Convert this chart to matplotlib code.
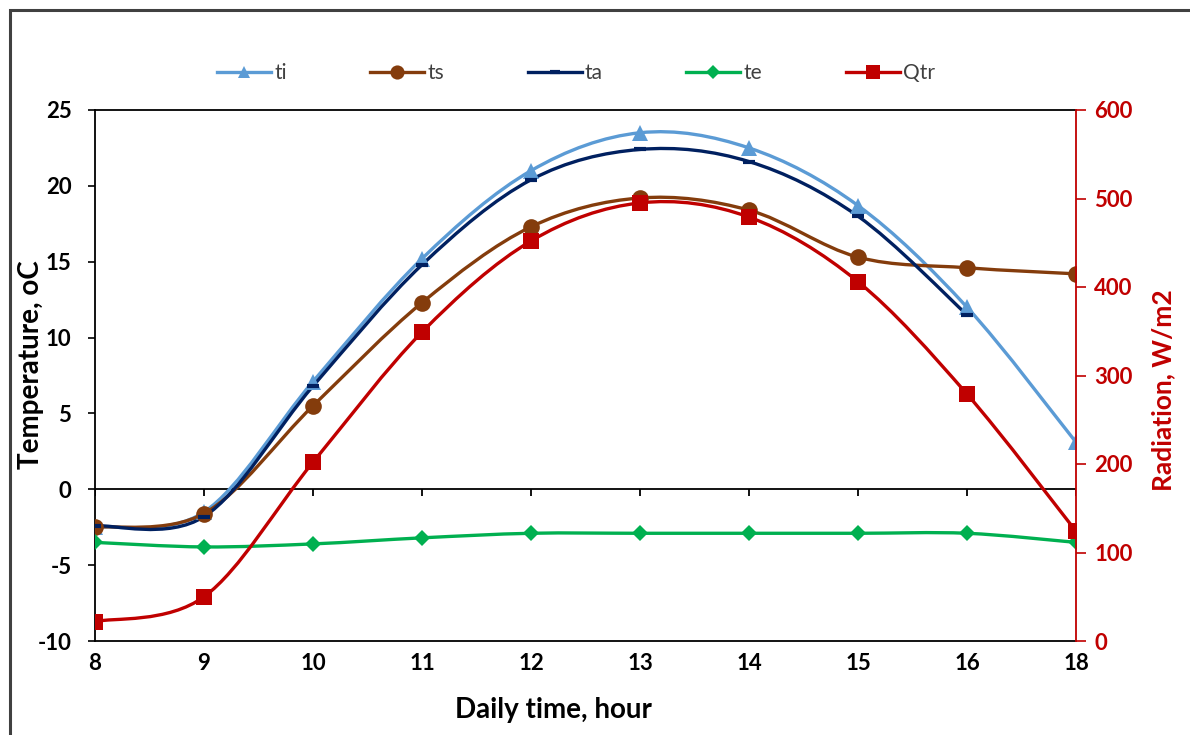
import numpy as np
import matplotlib
matplotlib.use("Agg")
import matplotlib.pyplot as plt
from matplotlib.path import Path
from matplotlib.patches import PathPatch, Rectangle
from matplotlib.lines import Line2D

plt.rcParams["font.family"] = ["Lato", "DejaVu Sans"]
plt.rcParams["axes.unicode_minus"] = False

# data
hours = ["8", "9", "10", "11", "12", "13", "14", "15", "16", "18"]
ti = [-2.5, -1.5, 7.1, 15.2, 21.0, 23.5, 22.5, 18.7, 12.0, 3.1]
ts = [-2.5, -1.6, 5.5, 12.3, 17.3, 19.2, 18.4, 15.3, 14.6, 14.2]
ta = [-2.4, -1.8, 6.8, 14.8, 20.4, 22.4, 21.6, 18.0, 11.5, np.nan]
te = [-3.5, -3.8, -3.6, -3.2, -2.9, -2.9, -2.9, -2.9, -2.9, -3.5]
qtr = [22, 50, 202, 349, 452, 495, 479, 406, 279, 124]

C_TI = "#5B9BD5"
C_TS = "#843C0C"
C_TA = "#002060"
C_TE = "#00B050"
C_Q = "#C00000"


def smooth_path(xs, ys):
    """Excel-style smoothed line as cubic Bezier segments."""
    pts = [(x, y) for x, y in zip(xs, ys) if not np.isnan(y)]
    pts = np.array(pts, dtype=float)
    n = len(pts)
    verts = [pts[0]]
    codes = [Path.MOVETO]
    for i in range(n - 1):
        p_prev = pts[i - 1] if i > 0 else pts[i]
        p0, p1 = pts[i], pts[i + 1]
        p_next = pts[i + 2] if i + 2 < n else pts[i + 1]
        c1 = p0 + (p1 - p_prev) / 6.0
        c2 = p1 - (p_next - p0) / 6.0
        verts += [c1, c2, p1]
        codes += [Path.CURVE4] * 3
    return Path(verts, codes)


fig = plt.figure(figsize=(11.9, 7.35), dpi=100)
ax = fig.add_axes([95 / 1190, 1 - 641 / 735, (1076 - 95) / 1190, (641 - 110) / 735])
ax2 = ax.twinx()

x = np.arange(len(hours))

series = [
    (ax, ti, C_TI, "^", 11, "ti"),
    (ax, ts, C_TS, "o", 12, "ts"),
    (ax, ta, C_TA, "_", 8, "ta"),
    (ax, te, C_TE, "D", 8, "te"),
    (ax2, qtr, C_Q, "s", 12, "Qtr"),
]
handles = []
for a, vals, col, mk, ms, name in series:
    vals = np.array(vals, dtype=float)
    a.add_patch(PathPatch(smooth_path(x, vals), facecolor="none", edgecolor=col,
                          lw=2.4, zorder=3))
    mew = 3 if mk == "_" else 0
    a.plot(x, vals, linestyle="none", marker=mk, ms=ms, color=col, mew=mew,
           zorder=4)
    handles.append(Line2D([], [], color=col, lw=2.4, marker=mk, ms=ms * 0.85,
                          mew=mew, label=name))

ax.set_xlim(0, len(hours) - 1)
ax.set_ylim(-10, 25)
ax.set_yticks(range(-10, 26, 5))
ax2.set_ylim(0, 600)
ax2.set_yticks(range(0, 601, 100))

ax.set_xticks(x)
ax.set_xticklabels(hours)
ax.tick_params(axis="x", length=0, pad=9)
ax.tick_params(axis="y", length=5, width=1.2, pad=12)
ax2.tick_params(axis="y", length=7, width=1.2, colors=C_Q, pad=6)

for lab in ax.get_xticklabels() + ax.get_yticklabels():
    lab.set_fontsize(16)
    lab.set_fontweight("bold")
    lab.set_color("black")
for lab in ax2.get_yticklabels():
    lab.set_fontsize(16)
    lab.set_fontweight("bold")
    lab.set_color(C_Q)

for sp in ax.spines.values():
    sp.set_linewidth(1.3)
    sp.set_color("black")
for name, sp in ax2.spines.items():
    sp.set_visible(name == "right")
ax2.spines["right"].set_color(C_Q)
ax2.spines["right"].set_linewidth(1.3)
ax.spines["right"].set_visible(False)

# horizontal axis line through zero, with its tick marks
ax.axhline(0, color="black", lw=1.3, zorder=2)
ax.vlines(x, -0.45, 0, color="black", lw=1.3, zorder=2)

ax.set_xlabel("Daily time, hour", fontsize=20, fontweight="bold")
ax.xaxis.set_label_coords(0.467, -0.105)
ax.set_ylabel("Temperature, oC", fontsize=20, fontweight="bold")
ax.yaxis.set_label_coords(-0.052, 0.52)
ax2.set_ylabel("Radiation, W/m2", fontsize=19, fontweight="bold", color=C_Q)
ax2.yaxis.set_label_coords(1.077, 0.473)

fig.legend(handles=handles, loc="center", bbox_to_anchor=(576 / 1190, 1 - 73 / 735),
           ncol=5, frameon=False, fontsize=15, handlelength=2.6, handletextpad=0.15,
           columnspacing=4.0, labelcolor="#404040")

# outer chart frame
fig.patches.append(Rectangle((10 / 1190, -0.05), 1.2, 1 - 10 / 735 + 0.05,
                             transform=fig.transFigure, fill=False,
                             edgecolor="#404040", lw=2.2, zorder=0))

fig.savefig("out.png", dpi=100)
